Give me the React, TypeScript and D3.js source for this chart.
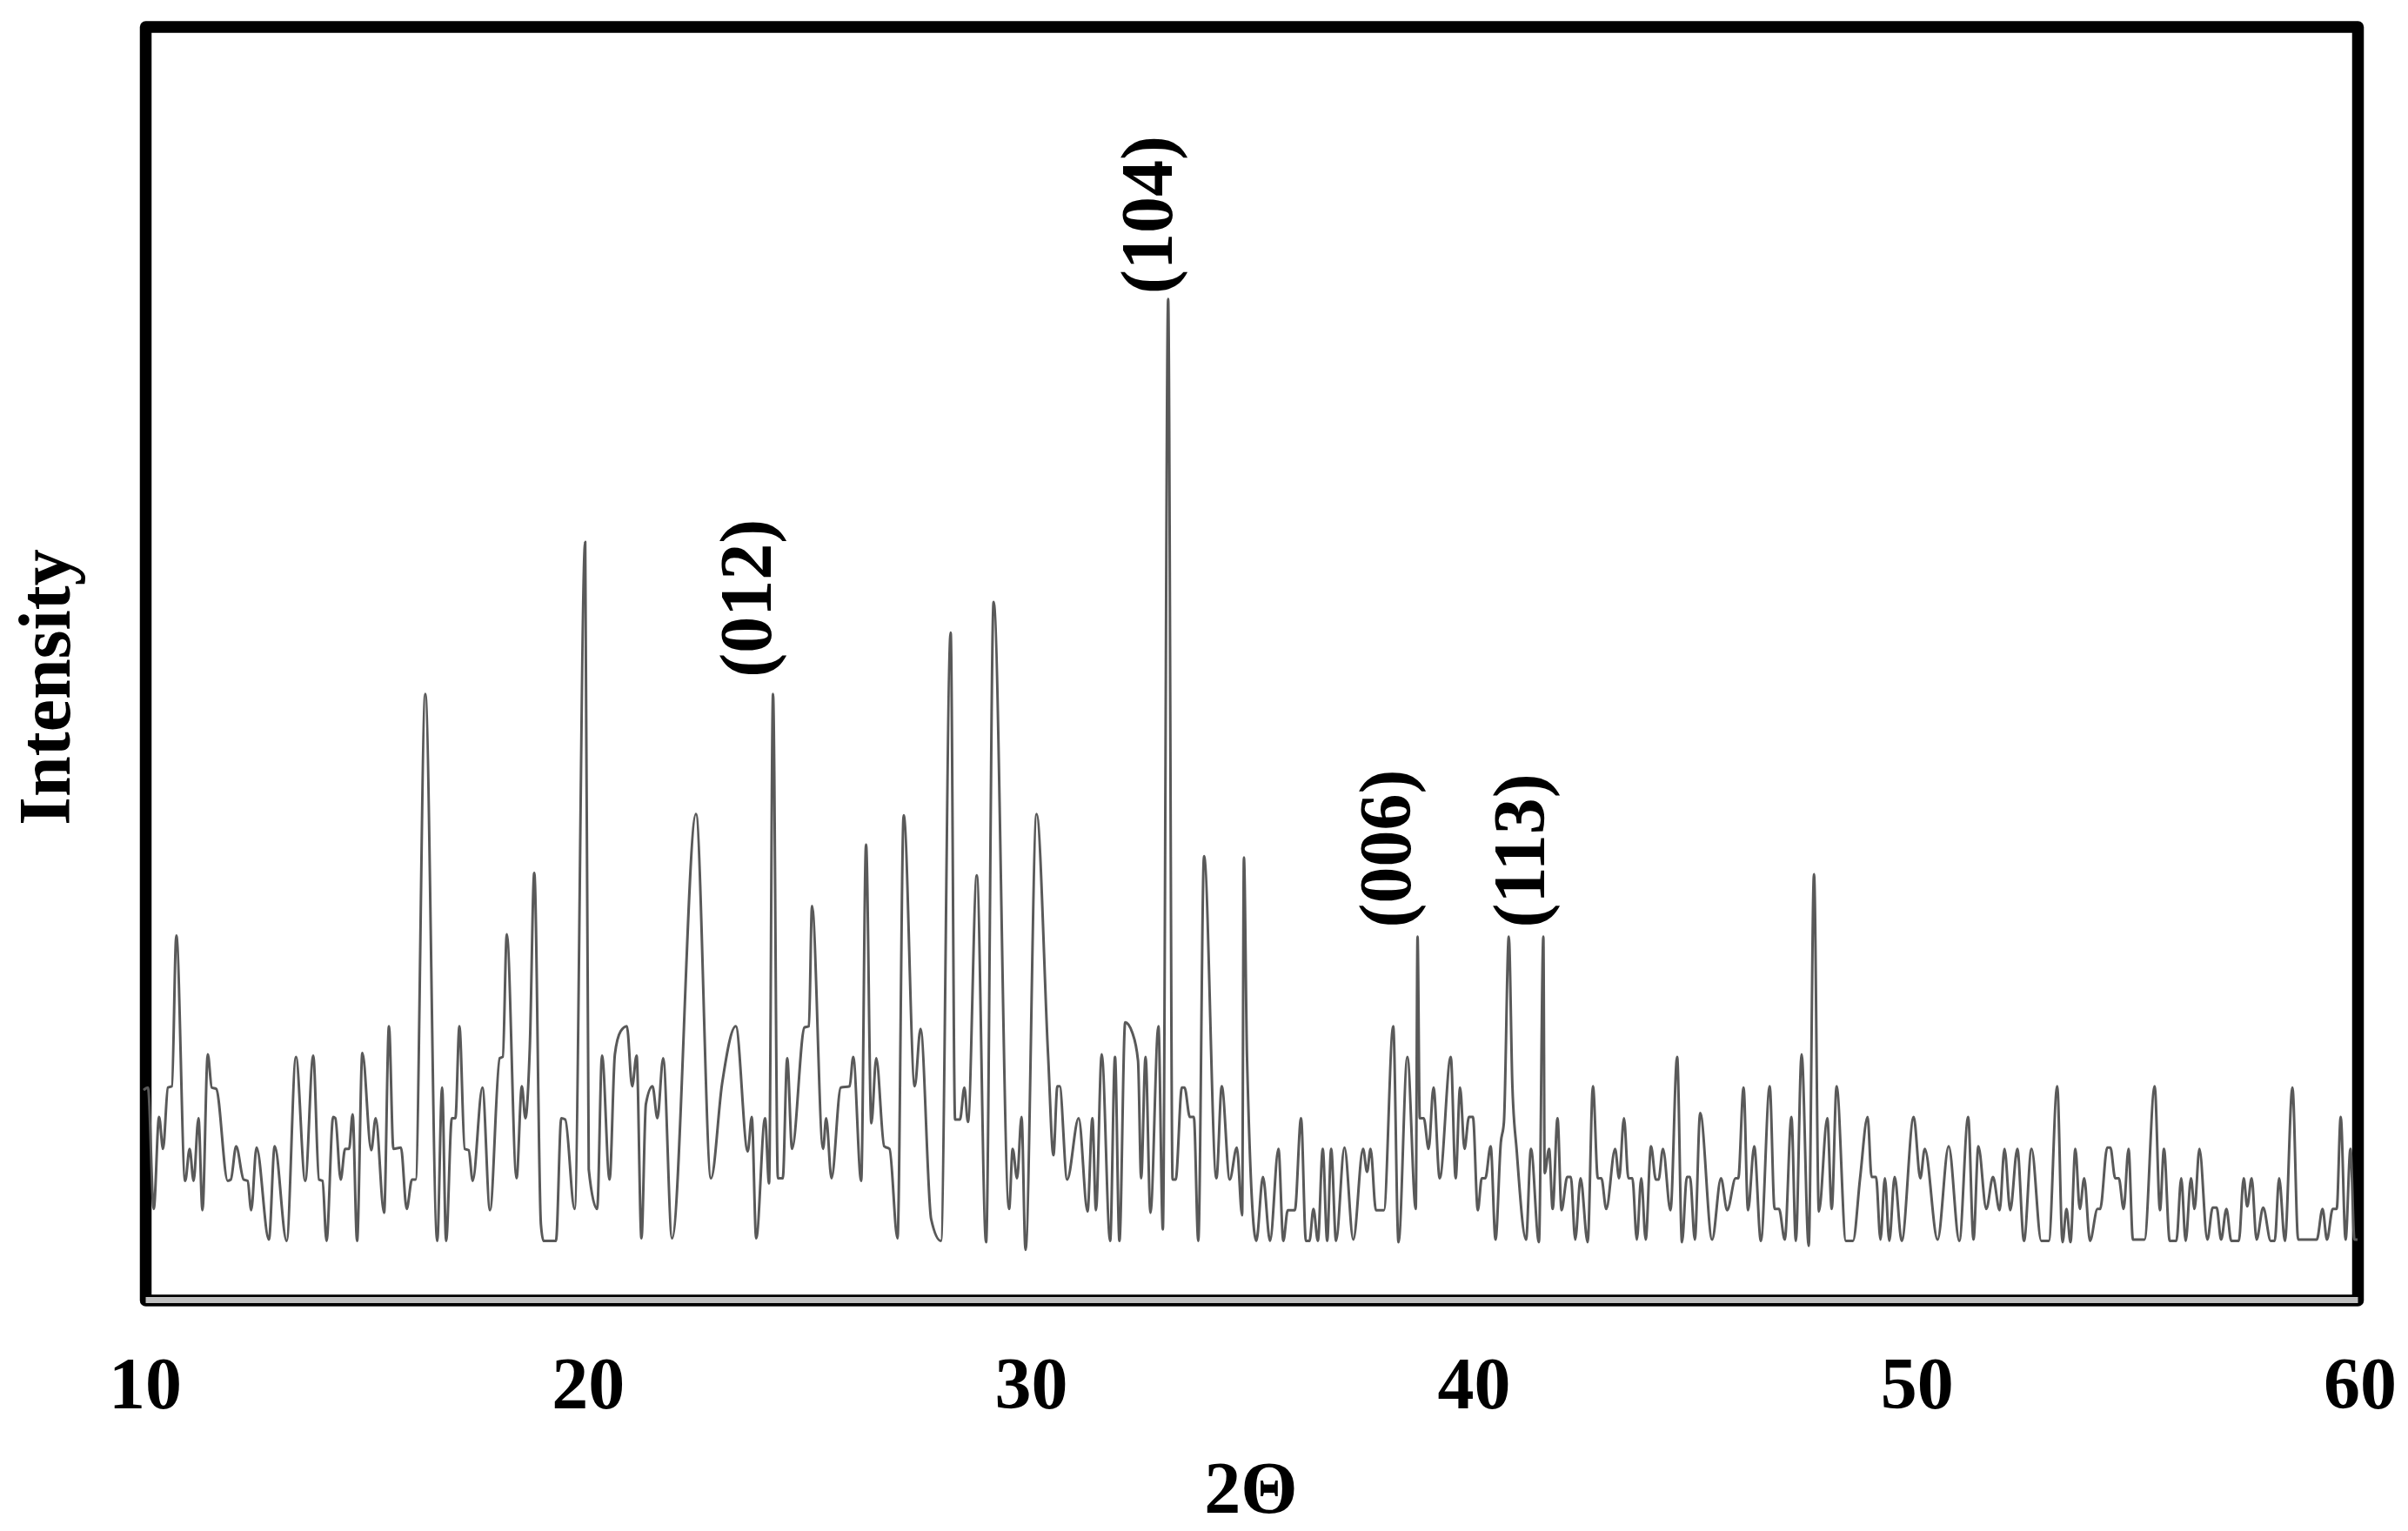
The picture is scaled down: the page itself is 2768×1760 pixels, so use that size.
import React from "react";
import * as d3 from "d3";

// XRD trace, 2θ in degrees, intensity in arbitrary units (0-100 of plot height)
const twoTheta = [
  10.02, 10.12, 10.25, 10.37, 10.46, 10.57, 10.66, 10.76, 10.96, 11.06, 11.15, 11.26, 11.35, 11.47, 11.56, 11.66,
  11.92, 11.99, 12.11, 12.28, 12.37, 12.45, 12.57, 12.85, 12.98, 13.25, 13.46, 13.67, 13.85, 13.98, 14.06, 14.15,
  14.3, 14.35, 14.47, 14.57, 14.66, 14.74, 14.84, 14.96, 15.16, 15.26, 15.45, 15.56, 15.66, 15.83, 15.96, 16.08,
  16.16, 16.38, 16.65, 16.76, 16.85, 16.98, 17.06, 17.15, 17.27, 17.36, 17.45, 17.67, 17.84, 18.06, 18.13, 18.22,
  18.44, 18.56, 18.64, 18.74, 18.84, 18.99, 19.05, 19.33, 19.45, 19.54, 19.75, 19.99, 20.07, 20.26, 20.37, 20.54,
  20.66, 20.79, 20.93, 21.05, 21.15, 21.26, 21.36, 21.51, 21.62, 21.75, 21.95, 22.49, 22.83, 23.08, 23.39, 23.66,
  23.75, 23.85, 24.05, 24.14, 24.23, 24.34, 24.45, 24.55, 24.66, 24.94, 25.04, 25.11, 25.36, 25.43, 25.55, 25.76,
  25.96, 26.04, 26.22, 26.33, 26.45, 26.56, 26.74, 26.86, 27.04, 27.18, 27.43, 27.56, 27.8, 28.02, 28.24, 28.34,
  28.45, 28.55, 28.63, 28.83, 29.04, 29.21, 29.56, 29.64, 29.74, 29.84, 29.93, 30.18, 30.44, 30.56, 30.65, 30.7,
  30.87, 31.13, 31.33, 31.44, 31.52, 31.65, 31.84, 31.95, 32.05, 32.18, 32.34, 32.47, 32.54, 32.64, 32.75, 32.93,
  33.03, 33.15, 33.25, 33.32, 33.46, 33.52, 33.64, 33.73, 33.83, 33.96, 34.24, 34.36, 34.54, 34.7, 34.82, 34.86,
  34.93, 35.14, 35.29, 35.45, 35.64, 35.75, 35.85, 36.01, 36.15, 36.26, 36.34, 36.43, 36.53, 36.64, 36.74, 36.83,
  36.94, 37.13, 37.33, 37.55, 37.64, 37.72, 37.84, 38.02, 38.23, 38.35, 38.55, 38.74, 38.78, 38.83, 38.92, 39.03,
  39.14, 39.28, 39.53, 39.64, 39.74, 39.84, 39.94, 40.03, 40.14, 40.23, 40.31, 40.43, 40.54, 40.66, 40.73, 40.84,
  40.92, 41.02, 41.23, 41.34, 41.52, 41.62, 41.65, 41.75, 41.83, 41.94, 42.03, 42.16, 42.24, 42.34, 42.46, 42.62,
  42.74, 42.85, 42.93, 43.04, 43.24, 43.33, 43.44, 43.54, 43.63, 43.73, 43.83, 43.93, 44.05, 44.16, 44.22, 44.32,
  44.49, 44.64, 44.75, 44.86, 44.93, 45.04, 45.16, 45.43, 45.63, 45.77, 45.96, 46.02, 46.14, 46.24, 46.38, 46.53,
  46.73, 46.84, 46.94, 47.07, 47.22, 47.32, 47.45, 47.61, 47.73, 47.84, 48.03, 48.13, 48.24, 48.45, 48.61, 48.77,
  48.94, 49.03, 49.13, 49.23, 49.33, 49.43, 49.55, 49.71, 49.98, 50.13, 50.23, 50.52, 50.77, 51.01, 51.21, 51.33,
  51.44, 51.62, 51.77, 51.92, 52.03, 52.16, 52.32, 52.47, 52.64, 52.86, 53.03, 53.22, 53.34, 53.43, 53.52, 53.63,
  53.73, 53.83, 53.96, 54.13, 54.19, 54.35, 54.42, 54.53, 54.61, 54.72, 54.83, 54.93, 55.19, 55.42, 55.54, 55.63,
  55.76, 55.91, 56.02, 56.12, 56.24, 56.32, 56.43, 56.61, 56.73, 56.82, 56.92, 57.04, 57.15, 57.32, 57.43, 57.51,
  57.61, 57.72, 57.87, 58.04, 58.13, 58.23, 58.36, 58.53, 58.66, 59.08, 59.21, 59.31, 59.44, 59.53, 59.62, 59.73,
  59.84, 59.93, 60.0,
];

const intensity = [
  16.6, 16.8, 7.3, 14.5, 12.0, 16.8, 16.9, 28.7, 9.5, 12.0, 9.5, 14.4, 7.2, 19.4, 16.8, 16.7,
  9.5, 9.6, 12.2, 9.6, 9.5, 7.2, 12.1, 4.9, 12.2, 4.8, 19.2, 9.5, 19.3, 9.6, 9.5, 4.8,
  14.5, 14.4, 9.6, 12.0, 12.0, 14.7, 4.8, 19.5, 11.9, 14.4, 7.0, 21.6, 12.0, 12.1, 7.3, 9.6,
  9.6, 47.6, 4.8, 16.8, 4.8, 14.4, 14.4, 21.6, 12.0, 11.9, 9.5, 16.8, 7.2, 19.1, 19.2, 28.8,
  9.7, 16.9, 14.4, 20.0, 33.6, 6.1, 4.8, 4.8, 14.4, 14.3, 7.3, 59.5, 10.4, 7.3, 19.3, 9.6,
  19.4, 21.2, 21.6, 16.9, 19.3, 5.0, 15.5, 16.9, 14.4, 19.1, 5.0, 38.2, 9.7, 17.1, 21.6, 11.8,
  14.5, 5.0, 14.4, 9.3, 47.6, 9.7, 9.7, 19.1, 12.0, 21.5, 21.6, 31.0, 12.0, 14.4, 9.7, 16.8,
  16.9, 19.2, 9.5, 35.8, 14.0, 19.1, 12.2, 12.0, 5.0, 38.1, 16.9, 21.4, 6.5, 4.8, 52.4, 14.3,
  14.3, 16.8, 14.1, 33.4, 4.7, 54.8, 7.3, 12.0, 9.7, 14.5, 4.1, 38.2, 19.3, 11.5, 16.9, 16.9,
  9.6, 14.4, 7.1, 14.4, 7.2, 19.4, 4.8, 19.2, 4.8, 21.9, 21.1, 18.9, 9.7, 19.2, 7.0, 21.6,
  5.7, 78.5, 9.6, 9.6, 16.8, 16.8, 14.5, 14.5, 4.8, 34.9, 9.7, 16.9, 9.6, 12.1, 6.8, 34.8,
  19.2, 4.8, 9.8, 4.8, 12.0, 4.8, 7.2, 7.2, 14.4, 4.8, 4.8, 7.3, 4.8, 12.0, 4.8, 12.0,
  4.8, 12.1, 4.9, 12.0, 10.2, 12.0, 7.2, 7.2, 21.6, 4.7, 19.2, 7.3, 28.6, 14.4, 14.4, 12.0,
  16.8, 9.7, 19.2, 9.7, 16.8, 12.0, 14.5, 14.5, 7.2, 9.7, 9.7, 12.2, 4.9, 12.5, 14.1, 28.6,
  17.0, 11.8, 4.9, 12.0, 4.7, 28.6, 10.1, 12.0, 7.3, 14.4, 7.2, 9.8, 9.8, 4.9, 9.7, 4.7,
  16.9, 9.7, 9.7, 7.3, 12.0, 9.7, 14.4, 9.7, 9.7, 4.9, 9.7, 4.9, 12.2, 9.6, 9.6, 12.0,
  7.2, 19.2, 4.7, 9.8, 9.8, 4.9, 14.8, 4.9, 9.7, 7.2, 9.7, 9.7, 16.8, 7.2, 12.2, 4.8,
  16.9, 7.3, 7.3, 4.9, 14.5, 4.8, 19.4, 4.4, 33.5, 7.1, 14.4, 7.3, 16.9, 4.8, 4.8, 9.7,
  14.5, 9.8, 9.8, 4.9, 9.7, 4.8, 9.8, 4.8, 14.5, 9.7, 12.0, 4.9, 12.2, 4.8, 14.5, 4.9,
  12.2, 7.3, 9.8, 7.2, 12.0, 7.2, 12.0, 4.8, 12.0, 4.8, 4.8, 16.9, 4.7, 7.3, 4.7, 12.0,
  7.3, 9.7, 4.8, 7.3, 7.3, 12.1, 12.1, 9.7, 9.7, 7.3, 12.0, 4.9, 4.9, 16.9, 7.2, 12.0,
  4.8, 4.8, 9.7, 4.8, 9.7, 7.3, 12.0, 4.9, 7.4, 7.4, 4.9, 7.3, 4.8, 4.8, 9.7, 7.5,
  9.7, 4.9, 7.4, 4.8, 4.8, 9.7, 4.8, 16.8, 4.9, 4.9, 7.3, 4.9, 7.3, 7.3, 14.5, 4.9,
  12.0, 4.9, 4.9,
];

const xTicks = [10, 20, 30, 40, 50, 60];

const peakLabels = ["(012)", "(104)", "(006)", "(113)"];
const peakLabelTheta = [24.18, 33.23, 38.61, 41.64];
const peakLabelIntensity = [48.9, 78.9, 29.3, 29.3];

const WIDTH = 2768;
const HEIGHT = 1760;
const FONT = "'Liberation Serif', 'Times New Roman', serif";

export default function App() {
  const x = d3.scaleLinear().domain([10, 60]).range([164, 2710]);
  const y = d3.scaleLinear().domain([0, 100]).range([1497, 28]);

  const line = d3
    .line<number>()
    .x((d, i) => x(twoTheta[i]))
    .y((d) => y(d))
    .curve(d3.curveMonotoneX);

  // frame geometry (the chart's box)
  const frameLeft = 167.5;
  const frameRight = 2710.5;
  const frameTop = 31;
  const frameBottom = 1495;

  return (
    <div style={{ position: "absolute", left: 0, top: 0 }}>
      <svg width={WIDTH} height={HEIGHT} style={{ display: "block" }}>
        <rect x={0} y={0} width={WIDTH} height={HEIGHT} fill="#ffffff" />

        <rect
          x={frameLeft}
          y={frameTop}
          width={frameRight - frameLeft}
          height={frameBottom - frameTop}
          fill="none"
          stroke="#000000"
          strokeWidth={13.5}
          strokeLinejoin="round"
        />
        {/* gray x axis line sitting inside the bottom border */}
        <line x1={frameLeft} x2={frameRight} y1={frameBottom - 0.5} y2={frameBottom - 0.5} stroke="#bfbfbf" strokeWidth={7} />

        <path d={line(intensity) || ""} fill="none" stroke="#595959" strokeWidth={3} strokeLinejoin="round" />

        {peakLabels.map((t, i) => {
          const px = x(peakLabelTheta[i]);
          const py = y(peakLabelIntensity[i]);
          return (
            <text
              key={t}
              transform={`translate(${px},${py}) rotate(-90)`}
              textAnchor="start"
              fontFamily={FONT}
              fontWeight="bold"
              fontSize={84}
              fill="#000"
            >
              {t}
            </text>
          );
        })}

        {xTicks.map((t) => (
          <text
            key={t}
            x={x(t) + 3}
            y={1619}
            textAnchor="middle"
            fontFamily={FONT}
            fontWeight="bold"
            fontSize={84}
            fill="#000"
          >
            {t}
          </text>
        ))}

        <text x={1438} y={1739} textAnchor="middle" fontFamily={FONT} fontWeight="bold" fontSize={84} fill="#000">
          2Θ
        </text>

        <text
          transform="translate(80,790) rotate(-90)"
          textAnchor="middle"
          fontFamily={FONT}
          fontWeight="bold"
          fontSize={84}
          fill="#000"
        >
          Intensity
        </text>
      </svg>
    </div>
  );
}
